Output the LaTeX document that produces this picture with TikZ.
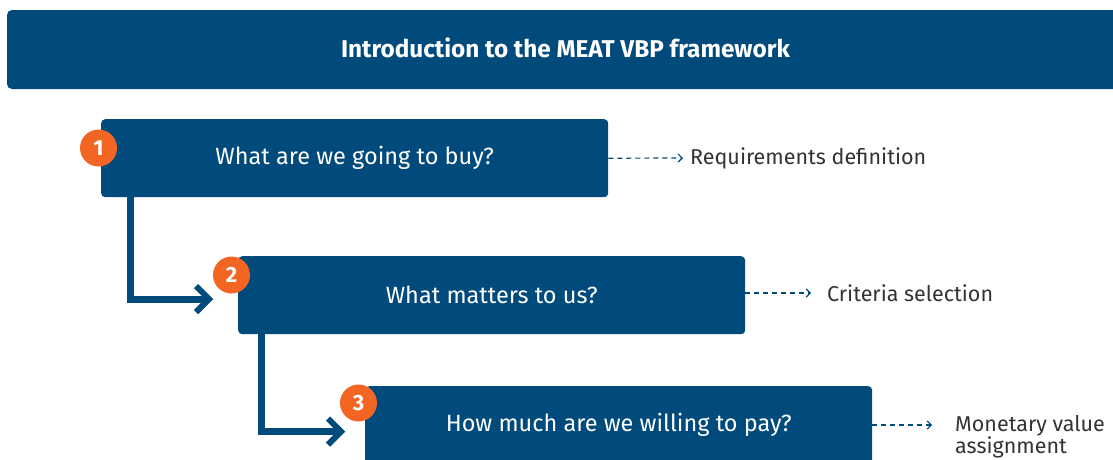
\documentclass[tikz,border=0pt]{standalone}
\usepackage{fontspec}
\setmainfont{Fira Sans}
\usetikzlibrary{arrows.meta}
\definecolor{meatblue}{HTML}{004A7C}
\definecolor{meatorange}{HTML}{F26522}
\definecolor{sidegray}{HTML}{333333}
\begin{document}
\begin{tikzpicture}[x=1pt,y=-1pt,
  header/.style={fill=meatblue, rounded corners=5pt},
  qbox/.style={fill=meatblue, rounded corners=4pt, minimum width=507pt, minimum height=78pt, inner sep=0pt, anchor=north west, text=white, font=\fontsize{23.5}{28}\selectfont},
  badge/.style={circle, fill=meatorange, minimum size=37pt, inner sep=0pt, text=white, font=\fontsize{22}{24}\selectfont\bfseries},
  flow/.style={draw=meatblue, line width=7pt},
  chev/.style={draw=meatblue, line width=6pt, miter limit=10},
  side/.style={text=sidegray, font=\fontsize{21.5}{24}\selectfont, anchor=west, inner sep=0pt, align=left},
  dasharr/.style={draw=meatblue, line width=1.2pt, dash pattern=on 5pt off 4pt, -{Straight Barb[length=4pt,width=8pt,line width=1.2pt]}}
]
\useasboundingbox (0,0) rectangle (1113,459);
% header
\fill[header] (7,10) rectangle (1125,89);
\node[text=white, font=\fontsize{24.3}{28}\selectfont\bfseries] (title) at (565.5,48) {Introduction to the MEAT VBP framework};
% boxes
\node[qbox] (b1) at (101,119) {What are we going to buy?};
\node[qbox] (b2) at (238,256) {What matters to us?};
\node[qbox] (b3) at (365,386) {How much are we willing to pay?};
% connectors
\coordinate (c1) at (130.5,197);
\coordinate (c1e) at (209,299);
\draw[flow] (c1) |- (c1e);
\draw[chev] ([xshift=-13pt,yshift=-13pt]c1e) -- (c1e) -- ([xshift=-13pt,yshift=13pt]c1e);
\coordinate (c2) at (261.5,333);
\coordinate (c2e) at (341,431.5);
\draw[flow] (c2) |- (c2e);
\draw[chev] ([xshift=-13pt,yshift=-13pt]c2e) -- (c2e) -- ([xshift=-13pt,yshift=13pt]c2e);
% badges
\node[badge] (n1) at (98.5,148) {1};
\node[badge] (n2) at (231.5,275) {2};
\node[badge] (n3) at (358.5,403) {3};
% side labels
\node[side] (s1) at (690,158) {Requirements definition};
\node[side] (s2) at (827,293) {Criteria selection};
\node[side, font=\fontsize{21.5}{22}\selectfont] (s3) at (955,437) {Monetary value\\assignment};
\coordinate (s3a) at (932,425);
\draw[dasharr] (b1.east) -- ([xshift=-7pt]s1.west);
\draw[dasharr] (b2.east |- s2.west) -- ([xshift=-16pt]s2.west);
\draw[dasharr] (b3.east |- s3a) -- (s3a);
\end{tikzpicture}
\end{document}
